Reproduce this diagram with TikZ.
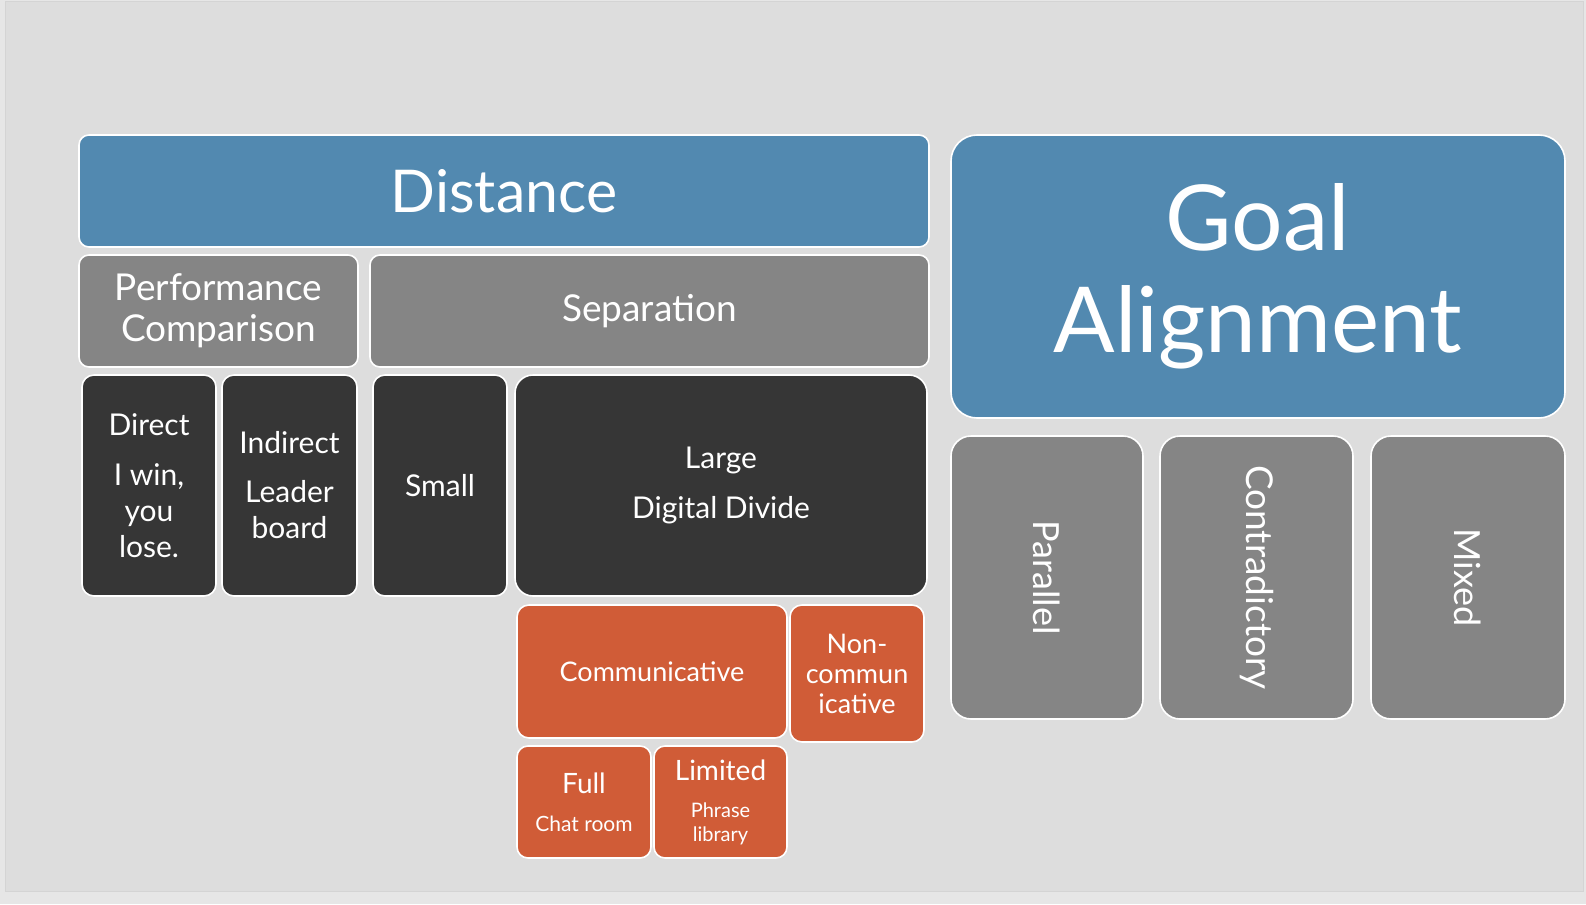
\documentclass[tikz,border=0pt]{standalone}
\usepackage{fontspec}
\setmainfont{Lato}
\definecolor{outerbg}{HTML}{E6E6E6}
\definecolor{slidebg}{HTML}{DDDDDD}
\definecolor{slideedge}{HTML}{D4D4D4}
\definecolor{blueblk}{HTML}{5289B0}
\definecolor{grayblk}{HTML}{858585}
\definecolor{darkblk}{HTML}{363636}
\definecolor{orangeblk}{HTML}{D05C37}

\newcommand\fsz[2]{\fontsize{#1}{#2}\selectfont}
% tile: name, x1, y1, x2, y2 (pixels from top left), style, text
\newcommand\tile[7]{%
  \node[tilebox,#6,minimum width={(#4-#2)*1pt},minimum height={(#5-#3)*1pt}]
    (#1) at ({(#2+#4)/2},{-(#3+#5)/2}) {#7};}

\tikzset{
  tilebox/.style={draw=white, line width=1.6pt, text=white, align=center, inner sep=0pt},
  blueT/.style={fill=blueblk},
  grayT/.style={fill=grayblk},
  darkT/.style={fill=darkblk},
  orangeT/.style={fill=orangeblk},
}

\begin{document}
\begin{tikzpicture}[x=1pt,y=1pt]
  \useasboundingbox (0,0) rectangle (1586,-904);
  % slide background
  \fill[outerbg] (0,0) rectangle (1586,-904);
  \filldraw[fill=slidebg,draw=slideedge,line width=1pt] (5,-2) rectangle (1583,-891);

  % Distance branch
  \tile{dist}{79}{135}{929}{247}{blueT,rounded corners=10pt,font=\fsz{59}{68}}{Distance}
  \tile{perf}{79}{255}{358}{367}{grayT,rounded corners=10pt,font=\fsz{37}{41}}{Performance\\Comparison}
  \tile{sep}{370}{255}{929}{367}{grayT,rounded corners=10pt,font=\fsz{37}{41}}{Separation}

  \tile{direct}{82}{375}{216}{596}{darkT,rounded corners=12pt,font=\fsz{30}{36}}{Direct\\[14pt]I win,\\you\\lose.}
  \tile{indirect}{222}{375}{357}{596}{darkT,rounded corners=12pt,font=\fsz{30}{36}}{Indirect\\[13pt]Leader\\board}
  \tile{small}{373}{375}{507}{596}{darkT,rounded corners=12pt,font=\fsz{30}{36}}{Small}
  \tile{large}{515}{375}{927}{596}{darkT,rounded corners=18pt,font=\fsz{30}{37}}{Large\\[13pt]Digital Divide}

  \tile{comm}{517}{605}{787}{738}{orangeT,rounded corners=12pt,font=\fsz{27}{30}}{Communicative}
  \tile{noncomm}{790}{605}{924}{742}{orangeT,rounded corners=12pt,font=\fsz{27}{30}}{Non-\\commun\\icative}
  \tile{full}{517}{746}{651}{858}{orangeT,rounded corners=11pt,font=\fsz{28}{30}}{Full\\[8pt]\fsz{21}{24}Chat room}
  \tile{limited}{654}{746}{787}{858}{orangeT,rounded corners=11pt,font=\fsz{28}{30}}{Limited\\[7pt]\fsz{20}{24}Phrase\\[-6pt]\fsz{20}{24}library}

  % Goal alignment branch
  \tile{goal}{951}{135}{1565}{418}{blueT,rounded corners=26pt,font=\fsz{91}{102}}{Goal\\Alignment}
  \tile{parallel}{951}{436}{1143}{719}{grayT,rounded corners=20pt,font=\fsz{36}{40}}{\rotatebox{-90}{Parallel}}
  \tile{contra}{1160}{436}{1353}{719}{grayT,rounded corners=20pt,font=\fsz{37}{40}}{\rotatebox{-90}{Contradictory}}
  \tile{mixed}{1371}{436}{1565}{719}{grayT,rounded corners=20pt,font=\fsz{36}{40}}{\rotatebox{-90}{Mixed}}
\end{tikzpicture}
\end{document}
